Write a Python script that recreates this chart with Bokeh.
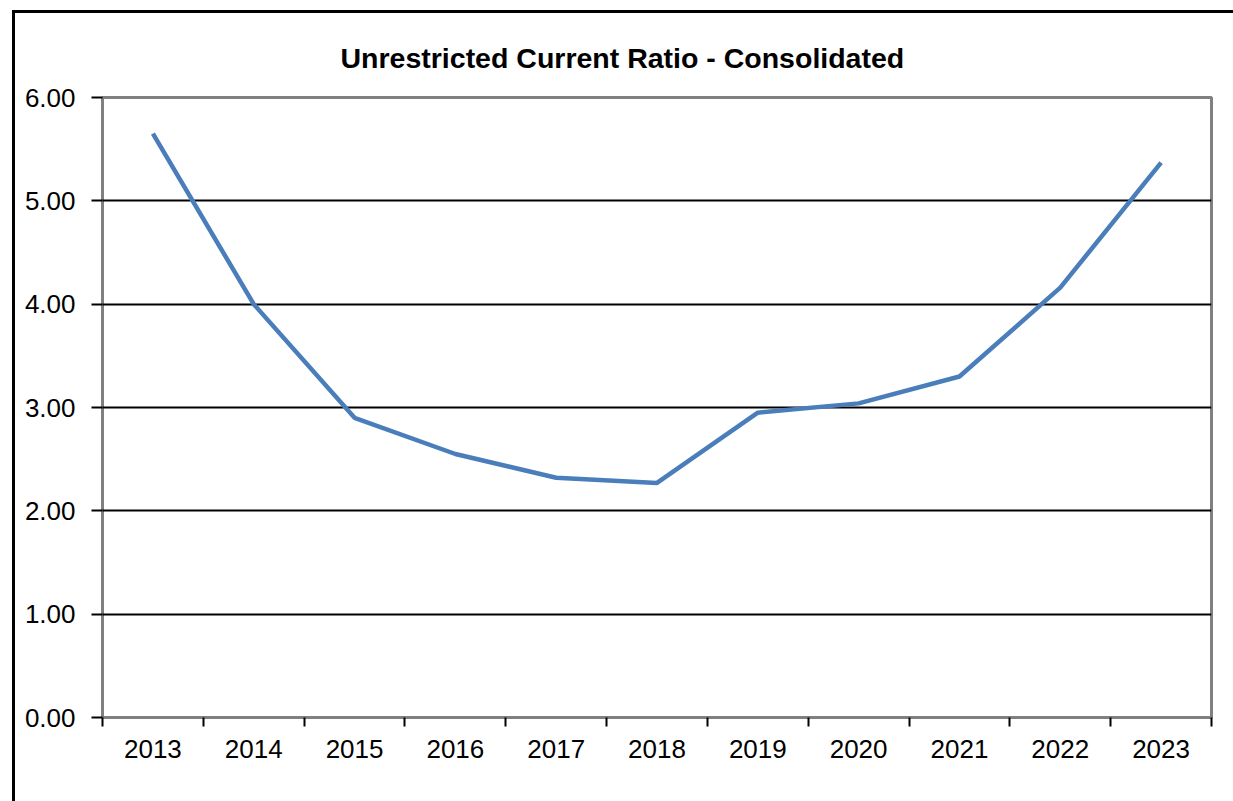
from bokeh.plotting import figure
from bokeh.models import FixedTicker, Range1d, NumeralTickFormatter, Title
from bokeh.embed import file_html
from bokeh.resources import INLINE

years = ["2013", "2014", "2015", "2016", "2017", "2018", "2019", "2020", "2021", "2022", "2023"]
ratio = [5.65, 4.00, 2.90, 2.55, 2.32, 2.27, 2.95, 3.04, 3.30, 4.16, 5.37]
y_ticks = [0, 1, 2, 3, 4, 5, 6]

xpos = [i + 0.5 for i in range(len(years))]

p = figure(width=1221, height=791, output_backend="svg", toolbar_location=None,
           x_range=Range1d(0, len(years)), y_range=Range1d(0, 6),
           min_border_left=87, min_border_right=25, min_border_top=84, min_border_bottom=87)
p.margin = (10, 0, 0, 12)
p.styles = {"border-left": "3px solid black", "border-top": "3px solid black"}

t = Title(text="Unrestricted Current Ratio - Consolidated", align="left",
          text_font="Liberation Sans", text_font_size="28.5px", text_font_style="bold",
          text_color="black", standoff=47, offset=238)
p.add_layout(t, "above")

p.line(xpos, ratio, line_color="#4a7ebb", line_width=4.5)

p.outline_line_color = "#808080"
p.outline_line_width = 3

p.xaxis.ticker = FixedTicker(ticks=xpos, minor_ticks=list(range(len(years) + 1)))
p.xaxis.major_label_overrides = {x: y for x, y in zip(xpos, years)}
p.xaxis.major_tick_out = 0
p.xaxis.major_tick_in = 0
p.xaxis.minor_tick_out = 9
p.xaxis.minor_tick_in = 0
p.xaxis.minor_tick_line_color = "black"
p.xaxis.minor_tick_line_width = 2
p.xaxis.axis_line_color = None
p.xaxis.major_label_text_font = "Liberation Sans"
p.xaxis.major_label_text_font_size = "26px"
p.xaxis.major_label_text_color = "black"
p.xaxis.major_label_standoff = 13

p.yaxis.ticker = FixedTicker(ticks=y_ticks)
p.yaxis.formatter = NumeralTickFormatter(format="0.00")
p.yaxis.major_tick_out = 11
p.yaxis.major_tick_in = 0
p.yaxis.major_tick_line_color = "black"
p.yaxis.major_tick_line_width = 2
p.yaxis.minor_tick_line_color = None
p.yaxis.axis_line_color = None
p.yaxis.major_label_text_font = "Liberation Sans"
p.yaxis.major_label_text_font_size = "26px"
p.yaxis.major_label_text_color = "black"
p.yaxis.major_label_standoff = 16

p.xgrid.grid_line_color = None
p.ygrid.grid_line_color = "black"
p.ygrid.grid_line_width = 2
p.ygrid.ticker = FixedTicker(ticks=[1, 2, 3, 4, 5])

open("out.html", "w").write(file_html(p, INLINE))
